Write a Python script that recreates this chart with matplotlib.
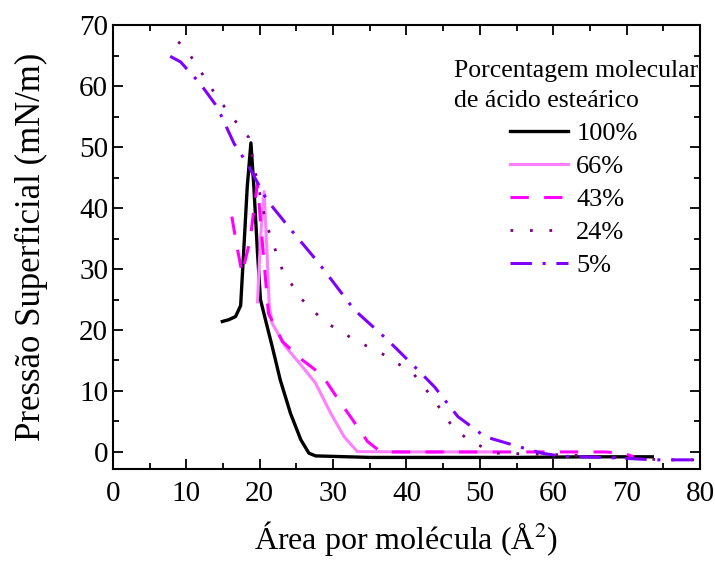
import matplotlib
matplotlib.use('Agg')
import matplotlib.pyplot as plt
from matplotlib.ticker import MultipleLocator

plt.rcParams['font.family'] = ['Liberation Serif', 'DejaVu Serif']
plt.rcParams['mathtext.fontset'] = 'stix'

# 100% acido estearico
x100 = [14.9, 15.8, 16.7, 17.4, 17.8, 18.3, 18.8, 19.2, 19.7, 20.1, 20.8, 21.7, 22.8, 24.2, 25.6, 26.7, 27.6, 35, 45, 55, 65, 73.5]
y100 = [21.4, 21.7, 22.2, 24.0, 32.6, 43.5, 50.7, 43.5, 32.6, 25.0, 21.6, 17.3, 11.8, 6.3, 2.0, -0.2, -0.65, -0.9, -0.9, -0.9, -0.8, -0.8]

# 66%
x66 = [19.7, 20.1, 20.6, 21.0, 21.3, 21.7, 23.5, 25.8, 27.6, 29.7, 31.5, 33.3, 40, 45, 52.3]
y66 = [24.6, 35.0, 42.7, 32.6, 24.0, 21.1, 17.3, 14.0, 11.3, 6.3, 2.5, 0.05, 0.0, 0.0, 0.0]

# 43%
x43 = [16.2, 16.9, 17.6, 18.7, 19.2, 19.7, 20.1, 20.8, 21.2, 23.1, 25.8, 28.5, 30.6, 32.7, 34.7, 36.5, 45, 55, 67, 69.5, 71.0]
y43 = [38.6, 33.7, 29.3, 34.8, 39.7, 44.0, 38.0, 28.2, 22.7, 18.1, 15.1, 12.6, 8.8, 5.2, 1.7, 0.0, 0.0, 0.0, 0.0, -0.2, -0.8]

# 24%
x24 = [8.9, 10.4, 11.7, 14.2, 17.1, 18.5, 19.4, 20.8, 21.5, 23.1, 25.6, 28.8, 32.9, 37.0, 40.9, 43.6, 46.3, 48.4, 50.2, 52.3, 56, 62, 70, 75, 80]
y24 = [67.3, 65.3, 62.9, 58.2, 53.6, 51.6, 45.9, 37.8, 35.3, 29.8, 25.2, 21.4, 18.4, 15.9, 12.9, 8.8, 4.1, 2.0, 0.9, -0.2, -0.3, -0.5, -1.0, -1.3, -1.3]

# 5%
x5 = [7.8, 9.2, 11.9, 14.2, 16.5, 18.3, 21.0, 24.7, 27.9, 32.9, 37.4, 41.1, 43.8, 47.0, 50.7, 55.2, 58.4, 61.1, 68.9, 73.9, 80]
y5 = [64.9, 64.0, 60.4, 56.6, 50.6, 47.3, 41.3, 35.8, 31.2, 23.3, 18.4, 14.0, 10.7, 5.8, 2.5, 0.9, -0.2, -0.7, -1.0, -1.3, -1.3]

fig = plt.figure(figsize=(7.15, 5.61), dpi=100)
ax = fig.add_axes([0.158, 0.164, 0.821, 0.791])

ax.plot(x100, y100, color='black', lw=2.4, label='100%')
ax.plot(x66, y66, color='#FF80FF', lw=2.2, label='66%')
ax.plot(x43, y43, color='#FF00FF', lw=2.2, ls=(0, (6, 5)), label='43%')
ax.plot(x24, y24, color='#800080', lw=2.0, ls=(0, (1, 6)), label='24%')
ax.plot(x5, y5, color='#8000FF', lw=2.2, ls=(0, (7, 3.5, 1, 3.5)), label='5%')

ax.set_xlim(0, 80)
ax.set_ylim(-2.8, 70)
ax.xaxis.set_major_locator(MultipleLocator(10))
ax.xaxis.set_minor_locator(MultipleLocator(5))
ax.yaxis.set_major_locator(MultipleLocator(10))
ax.yaxis.set_minor_locator(MultipleLocator(5))
ax.tick_params(which='both', direction='in', top=True, right=True, width=1.3, labelsize=21)
ax.tick_params(axis='x', which='both', pad=9)
ax.tick_params(which='major', length=7)
ax.tick_params(which='minor', length=4)
for s in ax.spines.values():
    s.set_linewidth(1.5)

ax.set_xlabel('Área por molécula (Å$^2$)', fontsize=23, labelpad=8)
ax.set_ylabel('Pressão Superficial (mN/m)', fontsize=25, labelpad=22)

ax.text(0.581, 0.921, 'Porcentagem molecular\nde ácido esteárico', transform=ax.transAxes,
        fontsize=18.5, va='top', ha='left', linespacing=1.45)
ax.legend(loc='upper left', bbox_to_anchor=(0.677, 0.783), frameon=False, fontsize=19,
          handlelength=2.2, handletextpad=0.3, labelspacing=0.36, borderpad=0, borderaxespad=0)

fig.savefig('out.png', dpi=100)
